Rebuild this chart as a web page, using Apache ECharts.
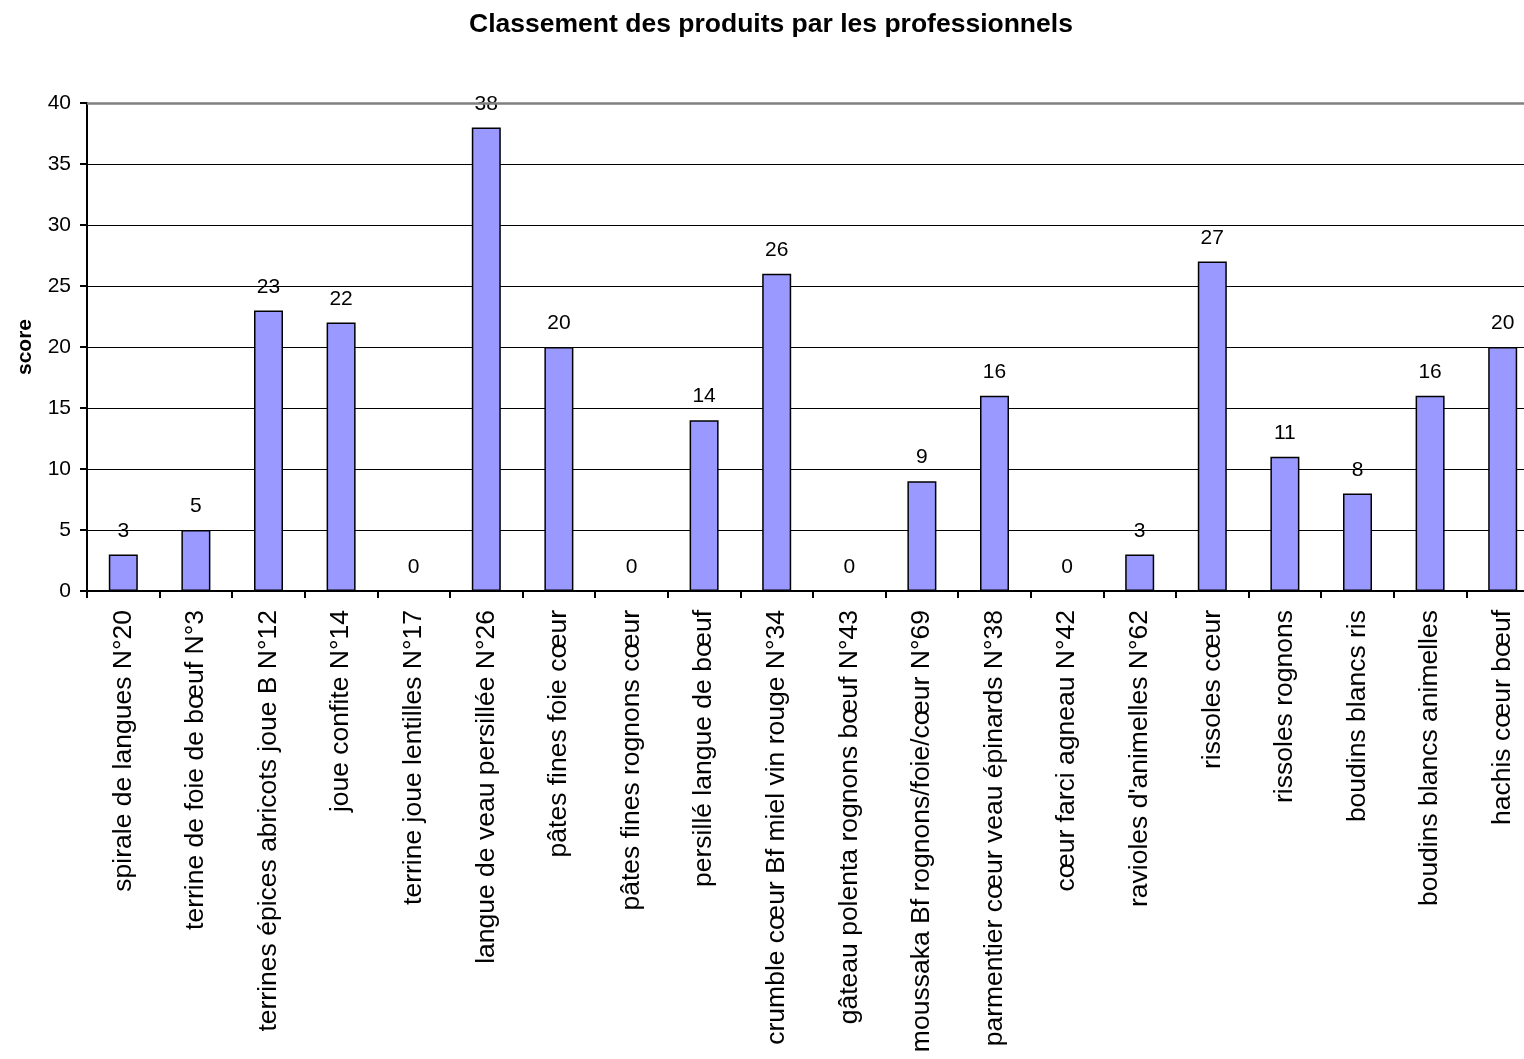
<!DOCTYPE html>
<html>
<head>
<meta charset="utf-8">
<script src="https://cdn.jsdelivr.net/npm/echarts@6/dist/echarts.min.js"></script>
<style>
  html, body { margin: 0; padding: 0; background: #fff; overflow: hidden; }
  #chart { width: 1539px; height: 1059px; }
</style>
</head>
<body>
<div id="chart"></div>
<script>
// Product names (x axis)
const produits = [
  'spirale de langues N°20',
  'terrine de foie de bœuf N°3',
  'terrines épices abricots joue B N°12',
  'joue confite N°14',
  'terrine joue lentilles N°17',
  'langue de veau persillée N°26',
  'pâtes fines foie cœur',
  'pâtes fines rognons cœur',
  'persillé langue de bœuf',
  'crumble cœur Bf miel vin rouge N°34',
  'gâteau polenta rognons bœuf N°43',
  'moussaka Bf rognons/foie/cœur N°69',
  'parmentier cœur veau épinards N°38',
  'cœur farci agneau N°42',
  'ravioles d\'animelles N°62',
  'rissoles cœur',
  'rissoles rognons',
  'boudins blancs ris',
  'boudins blancs animelles',
  'hachis cœur bœuf'
];

// Score given by the professionals
const scores = [3, 5, 23, 22, 0, 38, 20, 0, 14, 26, 0, 9, 16, 0, 3, 27, 11, 8, 16, 20];

// Value axis range
const yMin = 0;
const yMax = 40;
const yStep = 5;

const FONT = '"Liberation Sans", Arial, Helvetica, sans-serif';

const chart = echarts.init(document.getElementById('chart'), null, { renderer: 'canvas' });

chart.setOption({
  backgroundColor: '#ffffff',
  animation: false,
  title: {
    text: 'Classement des produits par les professionnels',
    left: 766,
    textAlign: 'center',
    top: 6,
    textStyle: { fontFamily: FONT, fontSize: 26.5, fontWeight: 'bold', color: '#000' }
  },
  grid: {
    left: 87,
    top: 103,
    right: 0,
    bottom: 468,
    containLabel: false
  },
  xAxis: {
    type: 'category',
    data: produits,
    boundaryGap: true,
    axisLine: { show: true, lineStyle: { color: '#000', width: 2 } },
    axisTick: { show: true, length: 7, alignWithLabel: false, lineStyle: { color: '#000', width: 2 } },
    axisLabel: {
      interval: 0,
      rotate: 90,
      margin: 19,
      fontFamily: FONT,
      fontSize: 26.5,
      color: '#000'
    },
    splitLine: { show: false }
  },
  yAxis: {
    type: 'value',
    name: 'score',
    nameLocation: 'middle',
    nameRotate: 90,
    nameGap: 51,
    nameTextStyle: { fontFamily: FONT, fontSize: 21, fontWeight: 'bold', color: '#000' },
    min: yMin,
    max: yMax,
    interval: yStep,
    axisLine: { show: true, lineStyle: { color: '#000', width: 2 } },
    axisTick: { show: true, inside: false, length: 7, lineStyle: { color: '#000', width: 2 } },
    axisLabel: { margin: 16, fontFamily: FONT, fontSize: 21, color: '#000' },
    splitLine: { show: true, lineStyle: { color: '#000', width: 1 } }
  },
  series: [{
    type: 'bar',
    data: scores,
    barWidth: 29,
    itemStyle: { color: '#9999ff', borderColor: '#000', borderWidth: 1.5 },
    label: {
      show: true,
      position: 'top',
      distance: 13,
      fontFamily: FONT,
      fontSize: 21,
      color: '#000'
    },
    markLine: {
      silent: true,
      symbol: 'none',
      label: { show: false },
      lineStyle: { color: '#808080', width: 2.5, type: 'solid' },
      data: [{ yAxis: yMax }]
    }
  }]
});
</script>
</body>
</html>
